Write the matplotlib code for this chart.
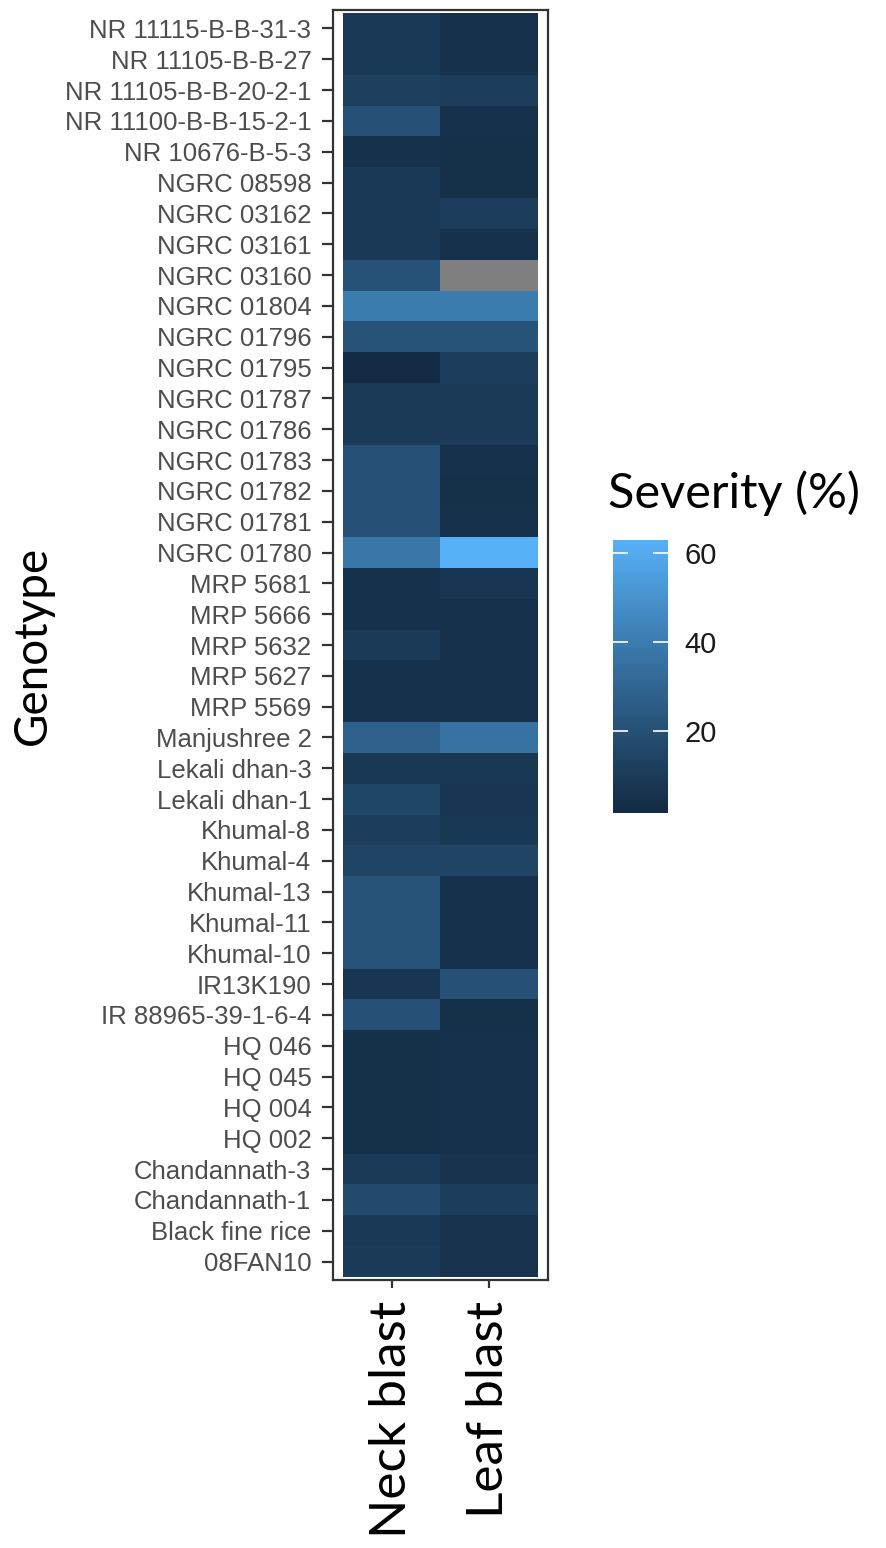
import numpy as np
import matplotlib
matplotlib.use("Agg")
import matplotlib.pyplot as plt
from matplotlib.colors import ListedColormap, Normalize

# ---------------- data ----------------
genotypes = [
    "NR 11115-B-B-31-3", "NR 11105-B-B-27", "NR 11105-B-B-20-2-1", "NR 11100-B-B-15-2-1",
    "NR 10676-B-5-3", "NGRC 08598", "NGRC 03162", "NGRC 03161", "NGRC 03160",
    "NGRC 01804", "NGRC 01796", "NGRC 01795", "NGRC 01787", "NGRC 01786",
    "NGRC 01783", "NGRC 01782", "NGRC 01781", "NGRC 01780", "MRP 5681",
    "MRP 5666", "MRP 5632", "MRP 5627", "MRP 5569", "Manjushree 2",
    "Lekali dhan-3", "Lekali dhan-1", "Khumal-8", "Khumal-4", "Khumal-13",
    "Khumal-11", "Khumal-10", "IR13K190", "IR 88965-39-1-6-4", "HQ 046",
    "HQ 045", "HQ 004", "HQ 002", "Chandannath-3", "Chandannath-1",
    "Black fine rice", "08FAN10",
]
traits = ["Neck blast", "Leaf blast"]

neck_blast = [9, 9, 12, 20, 5, 9, 9, 9, 21, 40, 22, 1.5, 10, 10,
              20, 20, 20, 38, 5, 5, 10, 5, 5, 28, 8, 15, 11, 14, 22,
              22, 22, 7, 20, 4, 4, 4, 4, 10, 17, 9, 10]
leaf_blast = [5, 5, 11, 5, 4, 4, 11, 5, np.nan, 40, 22, 11, 10, 10,
              5, 4, 5, 63, 7, 5, 5, 5, 5, 36, 8, 7, 8, 14, 5,
              5, 5, 20, 4, 5, 5, 5, 5, 6, 11, 6, 6]
cbar_ticks = [20, 40, 60]

# ---------------- ggplot2-like gradient (Lab interpolation) ----------------
def _srgb_to_lab(rgb):
    rgb = np.asarray(rgb, float)
    lin = np.where(rgb <= 0.04045, rgb / 12.92, ((rgb + 0.055) / 1.055) ** 2.4)
    M = np.array([[0.4124564, 0.3575761, 0.1804375],
                  [0.2126729, 0.7151522, 0.0721750],
                  [0.0193339, 0.1191920, 0.9503041]])
    xyz = M @ lin
    wp = np.array([0.95047, 1.0, 1.08883])
    t = xyz / wp
    f = np.where(t > (6/29)**3, np.cbrt(t), t / (3*(6/29)**2) + 4/29)
    return np.array([116*f[1] - 16, 500*(f[0]-f[1]), 200*(f[1]-f[2])])

def _lab_to_srgb(lab):
    L, a, b = lab
    fy_ = (L + 16) / 116
    fx_ = fy_ + a / 500
    fz_ = fy_ - b / 200
    f = np.array([fx_, fy_, fz_])
    t = np.where(f > 6/29, f**3, 3*(6/29)**2*(f - 4/29))
    xyz = t * np.array([0.95047, 1.0, 1.08883])
    Minv = np.array([[3.2404542, -1.5371385, -0.4985314],
                     [-0.9692660, 1.8760108, 0.0415560],
                     [0.0556434, -0.2040259, 1.0572252]])
    lin = np.clip(Minv @ xyz, 0, 1)
    rgb = np.where(lin <= 0.0031308, 12.92*lin, 1.055*lin**(1/2.4) - 0.055)
    return np.clip(rgb, 0, 1)

def _hex(h):
    h = h.lstrip("#")
    return np.array([int(h[i:i+2], 16)/255 for i in (0, 2, 4)])

lab_lo = _srgb_to_lab(_hex("#132B43"))
lab_hi = _srgb_to_lab(_hex("#56B1F7"))
cols = [_lab_to_srgb(lab_lo + (lab_hi - lab_lo)*s) for s in np.linspace(0, 1, 256)]
cmap = ListedColormap(cols)
cmap.set_bad("#7F7F7F")

# ---------------- figure ----------------
W, H = 886, 1548
fig = plt.figure(figsize=(W/100, H/100), dpi=100)

def fx(px):
    return px / W

def fy(px):
    return 1 - px / H

ax_l, ax_r, ax_t, ax_b = 333, 548, 10, 1280
ax = fig.add_axes([fx(ax_l), fy(ax_b), fx(ax_r - ax_l), (ax_b - ax_t)/H])

data = np.ma.masked_invalid(np.column_stack([neck_blast, leaf_blast]))
vmin = float(np.nanmin(data)); vmax = float(np.nanmax(data))
norm = Normalize(vmin=vmin, vmax=vmax)

n = len(genotypes)
xe = np.arange(len(traits) + 1) + 0.5
ye = np.arange(n + 1) + 0.5
mesh = ax.pcolormesh(xe, ye, data, cmap=cmap, norm=norm, edgecolors="none")
ax.set_xlim(0.4, len(traits) + 0.6)
ax.set_ylim(n + 0.6, 0.4)

ax.set_xticks(np.arange(1, len(traits) + 1))
ax.set_xticklabels(traits, rotation=90, fontfamily="Lato", fontsize=37, color="black")
ax.set_yticks(np.arange(1, n + 1))
ax.set_yticklabels(genotypes, fontfamily="Liberation Sans", fontsize=18.5, color="#4D4D4D")
ax.tick_params(axis="y", length=8, width=1.6, color="#333333", pad=7.5)
ax.tick_params(axis="x", length=6, width=1.6, color="#333333", pad=9)
for s in ax.spines.values():
    s.set_color("#333333")
    s.set_linewidth(1.6)

ax.set_ylabel("Genotype", fontfamily="Lato", fontsize=33, color="black", labelpad=8)

# ---------------- colorbar ----------------
cb_l, cb_r, cb_t, cb_b = 613, 668, 540, 813
cax = fig.add_axes([fx(cb_l), fy(cb_b), fx(cb_r - cb_l), (cb_b - cb_t)/H])
cb = fig.colorbar(mesh, cax=cax, ticks=cbar_ticks)
cb.outline.set_visible(False)
cax.tick_params(axis="y", which="both", direction="in", length=11, width=1.2,
                colors="white", left=True, right=True, labelleft=False,
                labelright=True, pad=12)
for lab in cax.get_yticklabels():
    lab.set_color("#1A1A1A")
    lab.set_fontfamily("Liberation Sans")
    lab.set_fontsize(21)

fig.text(fx(608), fy(508), "Severity (%)", fontfamily="Lato", fontsize=35,
         color="black", ha="left", va="baseline")

fig.savefig("out.png", dpi=100, facecolor="white")
